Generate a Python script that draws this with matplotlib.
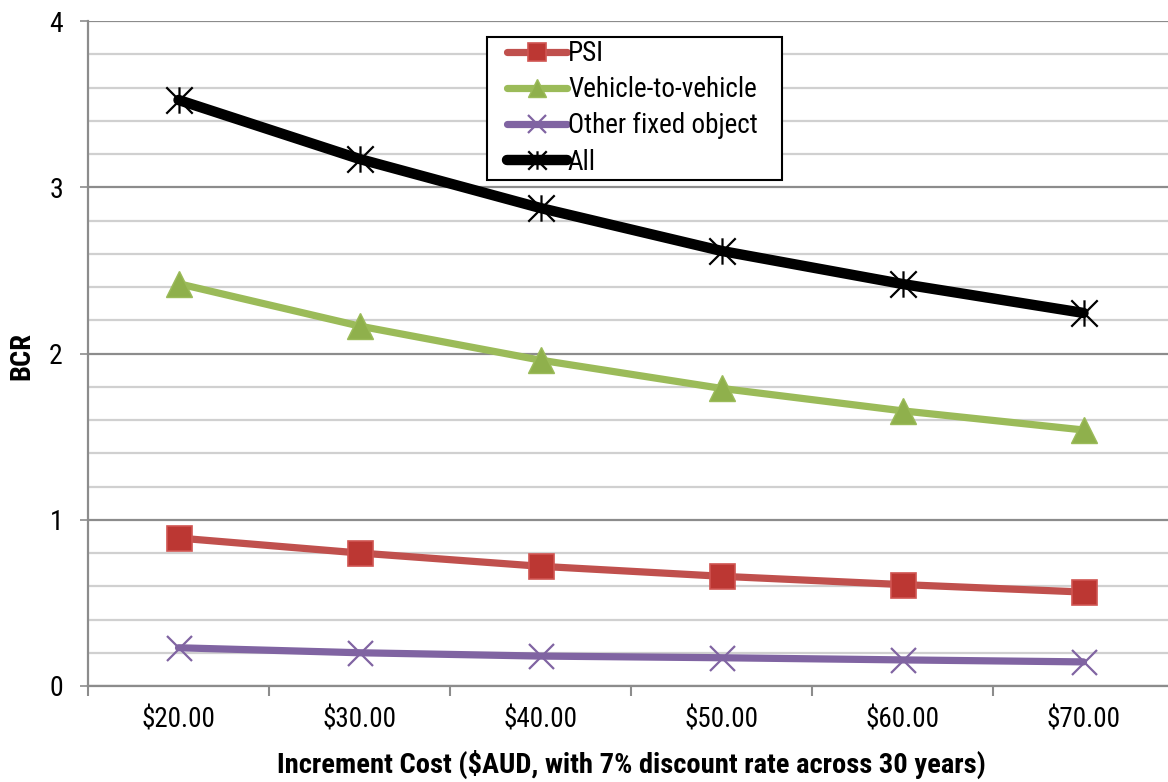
import matplotlib
matplotlib.use("Agg")
import matplotlib.pyplot as plt
from matplotlib.path import Path
from matplotlib.patches import Rectangle
from matplotlib.ticker import MultipleLocator, FixedLocator, NullFormatter

plt.rcParams['font.family'] = ['Roboto Condensed', 'Liberation Sans', 'DejaVu Sans']

# Benefit-cost ratios by increment cost
cost_labels = ["$20.00", "$30.00", "$40.00", "$50.00", "$60.00", "$70.00"]
psi = [0.89, 0.80, 0.72, 0.66, 0.61, 0.565]
vehicle_to_vehicle = [2.42, 2.165, 1.96, 1.79, 1.655, 1.54]
other_fixed_object = [0.23, 0.20, 0.18, 0.17, 0.157, 0.145]
all_crashes = [3.525, 3.17, 2.875, 2.617, 2.418, 2.244]

x = list(range(len(cost_labels)))

# asterisk marker: an x with a vertical stroke through it
asterisk = Path(
    [(0, -1), (0, 1), (-1, -1), (1, 1), (-1, 1), (1, -1)],
    [Path.MOVETO, Path.LINETO, Path.MOVETO, Path.LINETO, Path.MOVETO, Path.LINETO],
)

W, H = 1168, 782
fig = plt.figure(figsize=(W / 100, H / 100), dpi=100)
ax = fig.add_axes([88 / W, 96 / H, 1.0 - 88 / W, 665 / H])

ax.plot(x, psi, color='#C0504D', lw=5.2, marker='s', ms=18,
        mfc='#BC3733', mec='#D05552', mew=1.2, solid_capstyle='round',
        label='PSI', zorder=3)
ax.plot(x, vehicle_to_vehicle, color='#9BBB59', lw=5.2, marker='^', ms=19,
        mfc='#8FB04C', mec='#9BBB59', mew=1.0, solid_capstyle='round',
        label='Vehicle-to-vehicle', zorder=3)
ax.plot(x, other_fixed_object, color='#8064A2', lw=5.2, marker='x', ms=18,
        mec='#8064A2', mew=1.6, solid_capstyle='round',
        label='Other fixed object', zorder=3)
ax.plot(x, all_crashes, color='black', lw=7.5, marker=asterisk, ms=19,
        mec='black', mew=1.6, solid_capstyle='round',
        label='All', zorder=4)

ax.set_xlim(-0.5, -0.5 + 1080 / 181)
ax.set_ylim(0, 4)

# y axis: major ticks at each unit, minor gridlines every 0.2
ax.yaxis.set_major_locator(MultipleLocator(1))
ax.yaxis.set_minor_locator(MultipleLocator(0.2))
ax.yaxis.set_minor_formatter(NullFormatter())
ax.grid(which='major', axis='y', color='#8C8C8C', lw=1.6, zorder=0)
ax.grid(which='minor', axis='y', color='#D0D0D0', lw=1.6, zorder=0)
ax.tick_params(axis='y', which='major', length=6, width=1.2, color='#8C8C8C',
               labelsize=20, pad=12)
ax.tick_params(axis='y', which='minor', length=0)

# x axis: labels at categories, tick marks between them
ax.set_xticks(x)
ax.set_xticklabels(cost_labels)
ax.xaxis.set_minor_locator(FixedLocator([i - 0.5 for i in range(len(cost_labels) + 1)]))
ax.tick_params(axis='x', which='major', length=0, labelsize=19.5, pad=15)
ax.tick_params(axis='x', which='minor', length=7, width=1.5, color='#8C8C8C')

for side in ('top', 'right'):
    ax.spines[side].set_visible(False)
for side in ('left', 'bottom'):
    ax.spines[side].set_color('#8C8C8C')
    ax.spines[side].set_linewidth(1.6)
ax.set_axisbelow(True)

fig.text(22 / W, 1 - 356 / H, 'BCR', rotation=90, ha='center', va='center',
         fontsize=20.5, fontweight='bold')
fig.text(631 / W, 1 - 764 / H,
         'Increment Cost ($AUD, with 7% discount rate across 30 years)',
         ha='center', va='center', fontsize=20.5, fontweight='bold')

# legend box drawn explicitly so the entries can sit inside it freely
ax.add_patch(Rectangle((487 / W, 1 - 180 / H), 295 / W, 143 / H,
                       transform=fig.transFigure, facecolor='white',
                       edgecolor='black', lw=1.5, zorder=5, clip_on=False))
leg = ax.legend(loc='upper left', bbox_to_anchor=(507 / W, 1 - 40 / H),
                bbox_transform=fig.transFigure, fontsize=19.5, frameon=False,
                handlelength=2.2, handletextpad=0.05, labelspacing=0.34,
                borderpad=0.0, borderaxespad=0, markerscale=0.7)
leg.set_zorder(6)

fig.savefig('out.png', dpi=100)
